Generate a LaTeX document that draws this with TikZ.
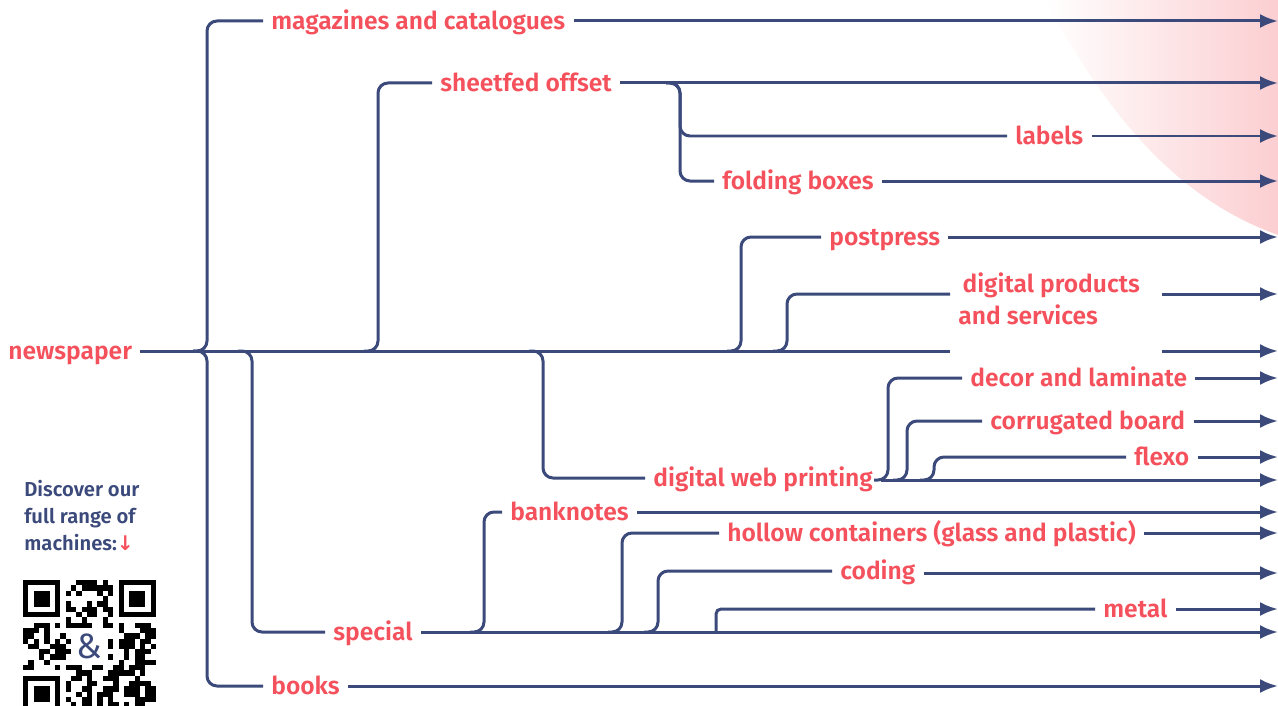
\documentclass[tikz,border=0pt]{standalone}
\usepackage{fontspec}
\setmainfont{Fira Sans}[BoldFont={Fira Sans SemiBold}]
\newfontfamily\arrowfont{DejaVu Sans}
\usetikzlibrary{positioning, calc, arrows.meta}
\definecolor{myred}{HTML}{F4515C}
\definecolor{navy}{HTML}{3B4A7B}
\tikzset{>={Latex[length=0.36cm, width=0.28cm]}}
\tikzset{
  branch/.style={draw=navy, line width=0.06cm, rounded corners=0.2cm},
  lead/.style={draw=navy, line width=0.06cm, ->},
  lbl/.style={text=myred, font=\bfseries\fontsize{14}{16}\selectfont, anchor=west,
    inner xsep=0.16cm, inner ysep=0, text height=12.7pt, text depth=3pt},
}

\begin{document}
\begin{tikzpicture}[x=0.02cm, y=-0.02cm]
  \useasboundingbox (0,0) rectangle (1278,706);
  % backdrop top right
  \shade[left color=white, right color=myred!28] (1045,0) .. controls (1110,120) and (1180,200) .. (1278,235) -- (1278,0) -- cycle;

  % Labels
  \node[lbl] (news) at (0,351) {newspaper};
  \node[lbl] (mag) at (263,21) {magazines and catalogues};
  \node[lbl] (sheet) at (432,83) {sheetfed offset};
  \node[lbl] (lab) at (1007,136) {labels};
  \node[lbl] (fold) at (714,181) {folding boxes};
  \node[lbl] (post) at (821,237) {postpress};
  \node[text=myred, font=\bfseries\fontsize{14}{18}\selectfont, anchor=west, align=left,
    inner xsep=0.16cm, inner ysep=0] (dps) at (950,299) {\hspace{6\pgflinewidth}digital products\\and services};
  \node[lbl] (decor) at (962,378) {decor and laminate};
  \node[lbl] (corr) at (982,421) {corrugated board};
  \node[lbl] (flexo) at (1126,457) {flexo};
  \node[lbl] (dwp) at (645,478) {digital web printing};
  \node[lbl] (bank) at (502,512) {banknotes};
  \node[lbl] (hollow) at (719,533) {hollow containers (glass and plastic)};
  \node[lbl] (coding) at (832,571) {coding};
  \node[lbl] (metal) at (1095,609) {metal};
  \node[lbl] (special) at (325,632) {special};
  \node[lbl] (books) at (263,686) {books};

  % Arrow ends
  \foreach \n/\y in {mag/21, sheet/83, lab/136, fold/181, post/237, dps/294, trunk/351,
      decor/378, corr/421, flexo/457, dwp/480, bank/512, hollow/533, coding/573,
      metal/609, special/632, books/686}
    \coordinate (end-\n) at (1278,\y);

  % Trunk
  \draw[branch] (news.east) -- (dps.west |- end-trunk);
  \draw[lead] ($(dps.east |- end-trunk)+(14,0)$) -- (end-trunk);
  \draw[lead] ($(dps.east |- end-dps)+(14,0)$) -- (end-dps);
  \draw[lead] (dwp.east |- end-dwp) -- (end-dwp);
  \foreach \n in {mag, sheet, lab, fold, post, decor, corr, flexo, bank, hollow, coding, metal, special, books}
    \draw[lead] (\n.east |- end-\n) -- (end-\n);

  % Branches
  \foreach \x/\y/\n in {207/351/mag, 207/351/books, 252/351/special, 378/351/sheet,
      543/351/dwp, 741/351/post, 680/83/lab, 680/83/fold, 888/480/decor, 907/480/corr,
      934/480/flexo, 484/632/bank, 622/632/hollow, 658/632/coding}{
    \coordinate (j-\n) at (\x,\y);
    \draw[branch] ($(j-\n)+(-14,0)$) -- (j-\n) |- (\n.west);
  }
  \coordinate (j-dps) at (787,351);
  \draw[branch] ($(j-dps)+(-14,0)$) -- (j-dps) |- (dps.west |- end-dps);
  \coordinate (j-metal) at (716,632);
  \draw[branch, rounded corners=0.1cm] (j-metal) |- (metal.west);

  % QR corner
  \node[anchor=north west, inner sep=0, text=navy, align=left,
    font=\bfseries\fontsize{11.5}{15.3}\selectfont] (disc) at (24,480)
    {Discover our\\full range of\\machines:{\arrowfont\color{myred}↓}};
  \pgfmathsetseed{11}
  \foreach \i in {0,...,24}
    \foreach \j in {0,...,24}{
      \pgfmathtruncatemacro{\qoff}{((\i<8)&&(\j<8))||((\i>16)&&(\j<8))||((\i<8)&&(\j>16))||((\i>8)&&(\i<16)&&(\j>8)&&(\j<16))}
      \pgfmathrandominteger{\qbit}{0}{1}
      \ifnum\qoff=0 \ifnum\qbit=1
        \fill (23+\i*5.32,580+\j*5.32) rectangle ++(5.32,5.32);
      \fi\fi
    }
  \foreach \ci/\cj in {0/0, 18/0, 0/18}{
    \fill (23+\ci*5.32,580+\cj*5.32) rectangle ++(37.24,37.24);
    \fill[white] (23+\ci*5.32+5.32,580+\cj*5.32+5.32) rectangle ++(26.6,26.6);
    \fill (23+\ci*5.32+10.64,580+\cj*5.32+10.64) rectangle ++(15.96,15.96);
  }
  \node[text=navy, font=\fontsize{20}{20}\selectfont] (amp) at (89.5,646.5) {\&};
\end{tikzpicture}
\end{document}
